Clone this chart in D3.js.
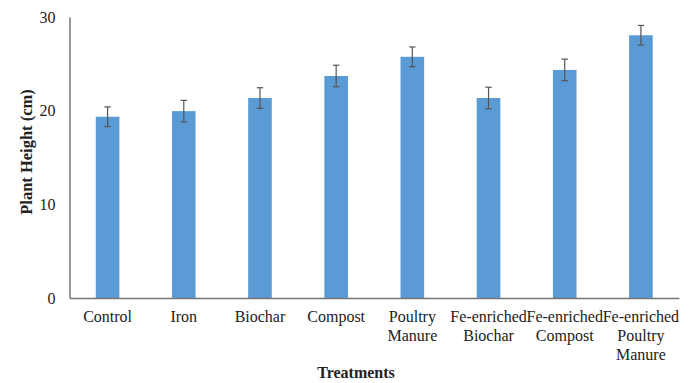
<!DOCTYPE html>
<html><head><meta charset="utf-8">
<script src="https://cdn.jsdelivr.net/npm/d3@7"></script>
<style>body{margin:0;background:#fff}svg{display:block}text{font-family:"Liberation Serif","Times New Roman",serif}</style>
</head><body>
<script>
const categories = ["Control","Iron","Biochar","Compost","Poultry\nManure","Fe-enriched\nBiochar","Fe-enriched\nCompost","Fe-enriched\nPoultry\nManure"];
const heights = [19.35, 19.95, 21.35, 23.7, 25.75, 21.35, 24.35, 28.05];
const errors = [1.05, 1.15, 1.1, 1.15, 1.05, 1.15, 1.15, 1.05];
const yTicks = [0, 10, 20, 30];

const W = 696, H = 383;
const m = {left: 69.5, right: 17, top: 17, bottom: 85};
const svg = d3.select("body").append("svg").attr("width", W).attr("height", H);
const x = d3.scaleBand().domain(categories).range([m.left, W - m.right]).paddingInner(0.69).paddingOuter(0.345);
const y = d3.scaleLinear().domain([0, 30]).range([H - m.bottom, m.top]);
const font = "Liberation Serif";

// bars
svg.append("g").selectAll("rect").data(categories).join("rect")
  .attr("x", d => x(d)).attr("width", x.bandwidth())
  .attr("y", (d,i) => y(heights[i])).attr("height", (d,i) => y(0) - y(heights[i]))
  .attr("fill", "#5B9BD5");

// error bars
const eg = svg.append("g").attr("stroke", "#555").attr("stroke-width", 1.2).attr("fill", "none");
categories.forEach((c, i) => {
  const cx = x(c) + x.bandwidth() / 2;
  const t = y(heights[i] + errors[i]), b = y(heights[i] - errors[i]);
  eg.append("line").attr("x1", cx).attr("x2", cx).attr("y1", t).attr("y2", b);
  eg.append("line").attr("x1", cx - 3.2).attr("x2", cx + 3.2).attr("y1", t).attr("y2", t);
  eg.append("line").attr("x1", cx - 3.2).attr("x2", cx + 3.2).attr("y1", b).attr("y2", b);
});

// y axis
const ya = svg.append("g").attr("transform", `translate(${m.left},0)`)
  .call(d3.axisLeft(y).tickValues(yTicks).tickSize(0).tickPadding(14).tickFormat(d3.format("d")));
ya.attr("font-family", null);
ya.select(".domain").attr("stroke", "#767676").attr("stroke-width", 1.5);
ya.selectAll("text").attr("font-family", font).attr("font-size", 16).attr("fill", "#222");

// x axis
const xa = svg.append("g").attr("transform", `translate(0,${y(0)})`)
  .call(d3.axisBottom(x).tickSize(0).tickFormat(""));
xa.attr("font-family", null);
xa.select(".domain").attr("stroke", "#767676").attr("stroke-width", 1.5);
xa.selectAll(".tick").each(function(d) {
  const t = d3.select(this).append("text").attr("fill", "#222").attr("font-family", font)
    .attr("font-size", 16).attr("text-anchor", "middle");
  d.split("\n").forEach((s, k) => t.append("tspan").attr("x", 0).attr("y", 23.5 + k * 19).text(s));
});

// axis titles
svg.append("text").attr("x", 356).attr("y", 378).attr("text-anchor", "middle")
  .attr("font-family", font).attr("font-weight", "bold").attr("font-size", 16).attr("fill", "#222").text("Treatments");
svg.append("text").attr("transform", "translate(32,152) rotate(-90)").attr("text-anchor", "middle")
  .attr("font-family", font).attr("font-weight", "bold").attr("font-size", 16.5).attr("fill", "#222").text("Plant Height (cm)");
</script>
</body></html>
